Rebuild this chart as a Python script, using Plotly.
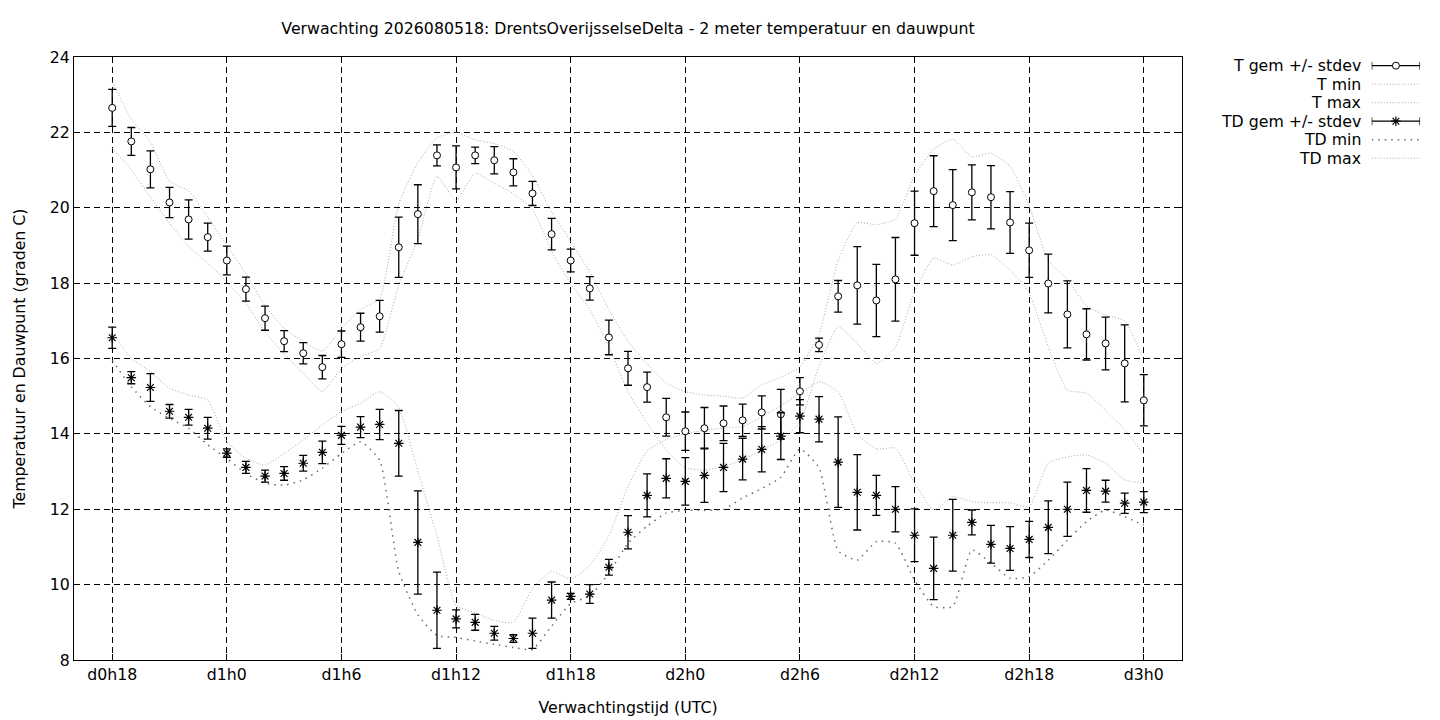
# -*- coding: utf-8 -*-
# Ensemble forecast plot: 2 m temperature and dew point with min/max envelopes
import plotly.graph_objects as plgo

# Forecast hours (d0h18 .. d3h0), one value per hour
hours = list(range(18, 73))
tick_hours = [18, 24, 30, 36, 42, 48, 54, 60, 66, 72]
tick_labels = ["d0h18", "d1h0", "d1h6", "d1h12", "d1h18", "d2h0", "d2h6", "d2h12", "d2h18", "d3h0"]

# Temperature: ensemble mean, standard deviation, min and max
t_mean = [22.65, 21.76, 21.02, 20.14, 19.69, 19.22, 18.60, 17.84, 17.07, 16.46,
          16.14, 15.77, 16.38, 16.83, 17.12, 18.95, 19.83, 21.39, 21.07, 21.39,
          21.26, 20.94, 20.38, 19.30, 18.60, 17.86, 16.56, 15.74, 15.24, 14.44,
          14.07, 14.15, 14.28, 14.36, 14.57, 14.52, 15.13, 16.36, 17.65, 17.94,
          17.54, 18.10, 19.59, 20.44, 20.07, 20.41, 20.28, 19.61, 18.87, 17.99,
          17.17, 16.64, 16.40, 15.87, 14.89]
t_sd = [0.49, 0.37, 0.49, 0.40, 0.52, 0.37, 0.38, 0.32, 0.32, 0.28,
        0.28, 0.31, 0.35, 0.37, 0.42, 0.80, 0.78, 0.28, 0.57, 0.22,
        0.36, 0.36, 0.32, 0.42, 0.30, 0.31, 0.46, 0.45, 0.40, 0.50,
        0.51, 0.55, 0.46, 0.43, 0.44, 0.66, 0.36, 0.18, 0.42, 1.03,
        0.96, 1.11, 0.85, 0.94, 0.94, 0.73, 0.84, 0.82, 0.72, 0.78,
        0.89, 0.68, 0.70, 1.02, 0.68]
t_min = [21.58, 21.00, 20.29, 19.59, 18.97, 18.53, 18.04, 17.46, 16.70, 16.12,
         15.61, 15.12, 15.74, 16.05, 16.27, 17.95, 19.17, 20.83, 20.19, 20.92,
         20.65, 20.37, 19.96, 18.85, 17.98, 17.30, 16.32, 15.12, 14.29, 13.57,
         13.10, 13.04, 13.13, 13.31, 13.57, 13.84, 14.30, 15.80, 16.84, 16.40,
         15.87, 16.31, 17.77, 18.66, 18.48, 18.70, 18.75, 18.35, 17.73, 16.31,
         15.16, 15.08, 14.63, 14.10, 13.45]
t_max = [23.35, 22.35, 21.75, 20.70, 20.45, 19.75, 19.00, 18.25, 17.40, 16.80,
         16.45, 16.20, 16.80, 17.30, 17.60, 20.10, 21.20, 21.85, 22.00, 21.80,
         21.70, 21.50, 20.85, 19.90, 19.10, 18.30, 17.30, 16.45, 15.85, 15.35,
         15.12, 15.03, 15.00, 14.95, 15.30, 15.50, 15.78, 16.65, 18.60, 19.60,
         19.55, 19.70, 20.85, 21.55, 21.82, 21.35, 21.45, 21.10, 20.05, 18.60,
         18.10, 17.40, 17.15, 17.00, 15.95]

# Dew point: ensemble mean, standard deviation, min and max
td_mean = [16.55, 15.49, 15.23, 14.60, 14.44, 14.15, 13.49, 13.11, 12.88, 12.95,
           13.22, 13.51, 13.96, 14.18, 14.25, 13.75, 11.12, 9.32, 9.09, 9.00,
           8.71, 8.57, 8.71, 9.59, 9.69, 9.75, 10.46, 11.39, 12.37, 12.82,
           12.74, 12.90, 13.11, 13.33, 13.59, 13.94, 14.47, 14.39, 13.25, 12.45,
           12.37, 12.00, 11.31, 10.43, 11.31, 11.65, 11.07, 10.96, 11.20, 11.52,
           12.00, 12.50, 12.48, 12.16, 12.19]
td_sd = [0.28, 0.16, 0.37, 0.18, 0.21, 0.29, 0.11, 0.16, 0.16, 0.18,
         0.21, 0.30, 0.24, 0.28, 0.40, 0.87, 1.37, 1.01, 0.24, 0.21,
         0.18, 0.10, 0.40, 0.48, 0.08, 0.25, 0.21, 0.44, 0.57, 0.52,
         0.63, 0.72, 0.64, 0.55, 0.60, 0.62, 0.44, 0.60, 1.20, 1.00,
         0.53, 0.60, 0.70, 0.83, 0.95, 0.33, 0.50, 0.58, 0.48, 0.70,
         0.72, 0.58, 0.29, 0.27, 0.28]
td_min = [15.95, 15.25, 14.72, 14.41, 14.15, 13.71, 13.35, 12.95, 12.69, 12.64,
          12.78, 13.09, 13.48, 13.79, 13.30, 10.35, 9.20, 8.65, 8.60, 8.50,
          8.42, 8.33, 8.28, 8.90, 9.50, 9.70, 10.30, 11.10, 11.55, 11.90,
          11.97, 11.97, 12.00, 12.30, 12.55, 12.85, 13.60, 13.10, 10.90, 10.65,
          11.14, 11.10, 10.12, 9.42, 9.42, 10.92, 10.57, 10.17, 10.21, 10.65,
          11.18, 11.67, 11.98, 11.80, 11.58]
td_max = [16.70, 16.00, 15.65, 15.21, 15.03, 14.90, 13.80, 13.35, 13.17, 13.48,
          13.84, 14.24, 14.59, 14.81, 15.12, 14.70, 13.00, 11.30, 9.45, 9.25,
          9.05, 9.00, 9.90, 10.35, 10.15, 10.50, 11.30, 12.60, 13.55, 13.85,
          14.00, 14.10, 14.15, 14.20, 14.45, 14.75, 15.08, 15.38, 15.12, 14.00,
          13.60, 13.62, 12.69, 11.98, 12.33, 12.20, 12.17, 12.17, 12.07, 13.22,
          13.39, 13.44, 13.22, 12.78, 12.69]

legend_labels = ["T gem +/- stdev", "T min", "T max", "TD gem +/- stdev", "TD min", "TD max"]

FONT = "DejaVu Sans"
FSIZE = 15.75
LIGHT_DOT = dict(color="#a8a8a8", width=1, dash="1px,2px")
DARK_DOT = dict(color="#6a6a6a", width=1.5, dash="1.5px,5px")
T_MARKER = dict(symbol="circle", size=7, color="white", line=dict(color="black", width=1))
TD_MARKER = dict(symbol="asterisk-open", size=8, color="black", line=dict(color="black", width=1.2))


def envelope(y, style, name):
    # dotted min/max line on the main axes
    return plgo.Scatter(x=hours, y=y, mode="lines", name=name, line=dict(style, shape="spline", smoothing=0.5),
                        hoverinfo="skip", showlegend=False)


def main():
    plots = [envelope(t_min, LIGHT_DOT, "T min"),
             envelope(t_max, LIGHT_DOT, "T max"),
             envelope(td_min, DARK_DOT, "TD min"),
             envelope(td_max, LIGHT_DOT, "TD max")]

    # mean +/- stdev with error bars
    plots.append(plgo.Scatter(x=hours, y=t_mean, mode="markers", name="T gem +/- stdev", marker=T_MARKER,
                              error_y=dict(type="data", array=t_sd, color="black", thickness=1.3, width=4),
                              showlegend=False))
    plots.append(plgo.Scatter(x=hours, y=td_mean, mode="markers", name="TD gem +/- stdev", marker=TD_MARKER,
                              error_y=dict(type="data", array=td_sd, color="black", thickness=1.3, width=4),
                              showlegend=False))

    # gnuplot-like key: text right aligned, sample to the right (drawn on a helper axis pair)
    rows = [0.9856 - 0.0307 * i for i in range(len(legend_labels))]
    styles = ["T", LIGHT_DOT, LIGHT_DOT, "TD", DARK_DOT, LIGHT_DOT]
    annotations = []
    for lbl, row, st in zip(legend_labels, rows, styles):
        if st == "T" or st == "TD":
            plots.append(plgo.Scatter(x=[0.5], y=[row], mode="markers", xaxis="x2", yaxis="y2",
                                      marker=T_MARKER if st == "T" else TD_MARKER,
                                      error_x=dict(type="data", array=[0.5], color="black", thickness=1.3, width=4),
                                      hoverinfo="skip", showlegend=False))
        else:
            plots.append(plgo.Scatter(x=[0, 1], y=[row, row], mode="lines", xaxis="x2", yaxis="y2", line=st,
                                      hoverinfo="skip", showlegend=False))
        annotations.append(dict(text=lbl, xref="paper", yref="y2", x=0.9439, y=row, xanchor="right",
                                yanchor="middle", showarrow=False, font=dict(family=FONT, size=FSIZE, color="black")))

    fig = plgo.Figure(data=plots)

    axis_style = dict(showgrid=True, gridcolor="black", gridwidth=1, griddash="6px,4px", showline=True,
                      linecolor="black", linewidth=1.2, mirror="ticks", ticks="inside", ticklen=6,
                      tickcolor="black", zeroline=False, tickfont=dict(family=FONT, size=FSIZE, color="black"))

    fig.update_layout(
        width=1440, height=720,
        margin=dict(l=74, r=0, t=57, b=60),
        paper_bgcolor="white", plot_bgcolor="white",
        font=dict(family=FONT, size=FSIZE, color="black"),
        title=dict(text="Verwachting 2026080518: DrentsOverijsselseDelta - 2 meter temperatuur en dauwpunt",
                   xref="paper", x=0.4056, xanchor="center", yref="container", y=1 - 28 / 720, yanchor="middle",
                   font=dict(family=FONT, size=FSIZE, color="black")),
        xaxis=dict(axis_style, domain=[0, 1108 / 1366], range=[16, 74], tickvals=tick_hours, ticktext=tick_labels,
                   title=dict(text="Verwachtingstijd (UTC)", standoff=18, font=dict(family=FONT, size=FSIZE))),
        yaxis=dict(axis_style, range=[8, 24], dtick=2, tick0=8,
                   title=dict(text="Temperatuur en Dauwpunt (graden C)", standoff=20,
                              font=dict(family=FONT, size=FSIZE))),
        xaxis2=dict(domain=[0.950, 0.9854], range=[0, 1], visible=False, anchor="y2", fixedrange=True),
        yaxis2=dict(domain=[0, 1], range=[0, 1], visible=False, anchor="x2", fixedrange=True),
        annotations=annotations,
        showlegend=False,
    )

    fig.write_html("out.html", config={"displayModeBar": False},
                   post_script="document.body.style.margin='0px';")


if __name__ == "__main__":
    main()
